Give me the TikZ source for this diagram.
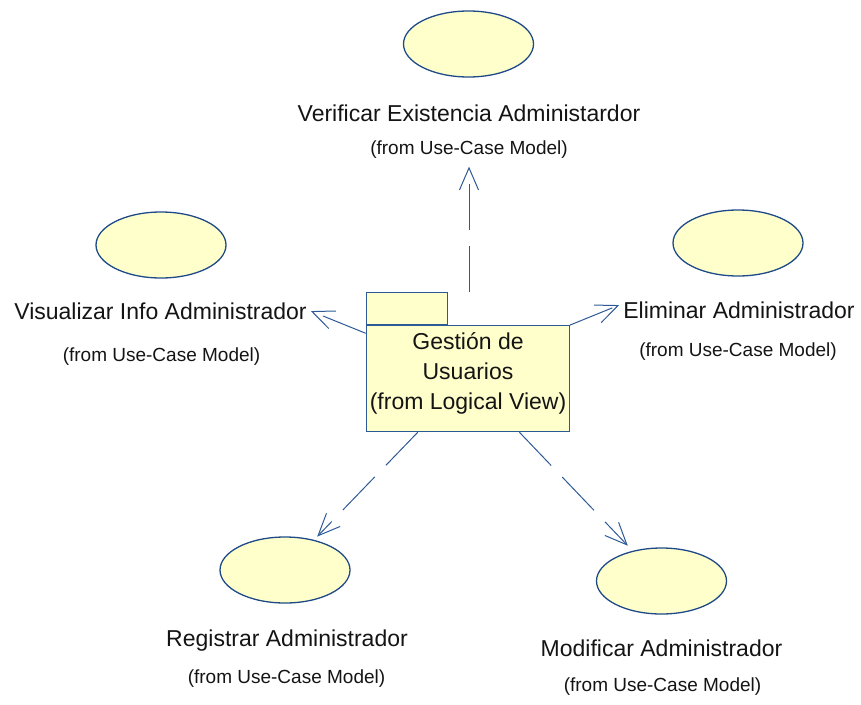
\documentclass[tikz,border=0pt]{standalone}
\usepackage{fontspec}
\setmainfont{Liberation Sans}
\usetikzlibrary{shapes.geometric,arrows.meta}
\definecolor{ucfill}{RGB}{255,255,204}
\definecolor{ucedge}{RGB}{30,75,135}
\definecolor{depline}{RGB}{45,90,150}
\definecolor{txt}{RGB}{20,20,20}

\begin{document}
\begin{tikzpicture}[x=1pt,y=-1pt,
  usecase/.style={ellipse, draw=ucedge, fill=ucfill, line width=1.3pt,
    minimum width=130pt, minimum height=66pt, inner sep=0pt},
  ucname/.style={font=\fontsize{23}{27}\selectfont, text=txt, anchor=base, inner sep=4pt},
  ucfrom/.style={font=\fontsize{19}{23}\selectfont, text=txt, anchor=base, inner sep=8pt},
  pkgbox/.style={draw=depline, fill=ucfill, line width=1pt, inner sep=0pt},
  depend/.style={draw=depline, line width=1pt, dash pattern=on 46pt off 16pt,
    -{Straight Barb[length=22pt,width=19pt]}}
]
\useasboundingbox (0,0) rectangle (861,704);

% use cases
\node[usecase] (verif) at (468.5,44) {};
\node[usecase] (visual) at (161,245) {};
\node[usecase] (elim) at (738,243) {};
\node[usecase] (regis) at (285,570) {};
\node[usecase] (modif) at (661.5,581) {};

% use case names
\node[ucname] (verifname) at (469,121.7) {Verificar Existencia Administardor};
\node[ucfrom] (veriffrom) at (469,154.5) {(from Use-Case Model)};
\node[ucname] (visualname) at (160.5,319.3) {Visualizar Info Administrador};
\node[ucfrom] (visualfrom) at (161.5,361) {(from Use-Case Model)};
\node[ucname] (elimname) at (739,318.3) {Eliminar Administrador};
\node[ucfrom] (elimfrom) at (738,356) {(from Use-Case Model)};
\node[ucname] (regisname) at (287,646) {Registrar Administrador};
\node[ucfrom] (regisfrom) at (286.5,683) {(from Use-Case Model)};
\node[ucname] (modifname) at (661.5,656) {Modificar Administrador};
\node[ucfrom] (modiffrom) at (662.5,691.5) {(from Use-Case Model)};

% package
\node[pkgbox, minimum width=203pt, minimum height=106pt] (pkg) at (467.7,378.7) {};
\node[pkgbox, anchor=south west, minimum width=81.7pt, minimum height=32.5pt] (tab) at (pkg.north west) {};
\node[font=\fontsize{23}{30}\selectfont, text=txt, align=center, inner sep=0pt] (pkgname) at (468,373.3)
  {Gestión de\\Usuarios\\(from Logical View)};

% dependencies
\draw[depend] (tab.north -| veriffrom.south) -- (veriffrom.south);
\draw[depend] (pkg.156) -- (visualname.east);
\draw[depend] (pkg.north east) -- ([yshift=5pt]elimname.west);
\draw[depend, shorten >=4.5pt] (pkg.227) -- (regis);
\draw[depend, shorten >=7pt] (pkg.314) -- (modif);
\end{tikzpicture}
\end{document}
